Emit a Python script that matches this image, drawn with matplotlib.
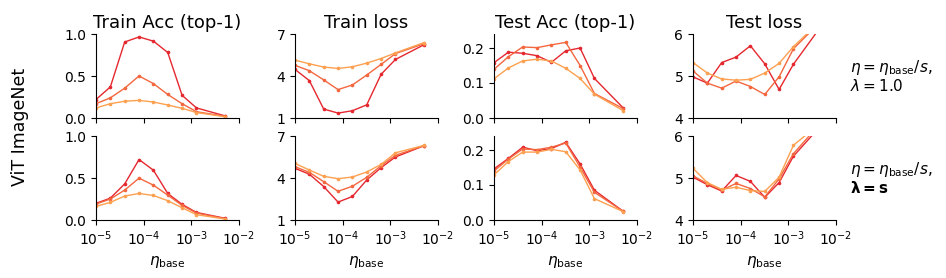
import matplotlib
matplotlib.use('Agg')
import matplotlib.pyplot as plt
import numpy as np

# learning rates: 1e-5 * 2^k, k = 0..7 and 9
eta_base = [1e-5, 2e-5, 4e-5, 8e-5, 1.6e-4, 3.2e-4, 6.4e-4, 1.28e-3, 5.12e-3]

colors = ['#e5282f', '#f3673f', '#fda050']

# row 1: eta = eta_base / s, lambda = 1.0
train_acc_1 = [
    [0.22, 0.37, 0.905, 0.965, 0.915, 0.78, 0.27, 0.12, 0.025],
    [0.17, 0.24, 0.355, 0.50, 0.41, 0.28, 0.17, 0.075, 0.02],
    [0.12, 0.17, 0.20, 0.21, 0.19, 0.155, 0.115, 0.065, 0.015],
]
train_loss_1 = [
    [4.47, 3.67, 1.64, 1.35, 1.52, 1.94, 4.12, 5.18, 6.24],
    [4.76, 4.38, 3.72, 3.03, 3.36, 4.07, 4.83, 5.60, 6.31],
    [5.13, 4.87, 4.64, 4.54, 4.66, 4.92, 5.25, 5.65, 6.39],
]
test_acc_1 = [
    [0.158, 0.188, 0.185, 0.178, 0.159, 0.192, 0.200, 0.113, 0.029],
    [0.139, 0.175, 0.203, 0.201, 0.209, 0.216, 0.150, 0.070, 0.027],
    [0.112, 0.143, 0.163, 0.168, 0.163, 0.142, 0.113, 0.068, 0.021],
]
test_loss_1 = [
    [4.98, 4.83, 5.32, 5.45, 5.72, 5.29, 4.68, 5.28, 6.22],
    [5.12, 4.83, 4.71, 4.88, 4.75, 4.56, 4.98, 5.65, 6.33],
    [5.32, 5.07, 4.93, 4.90, 4.92, 5.07, 5.30, 5.70, 6.35],
]

# row 2: eta = eta_base / s, lambda = s
train_acc_2 = [
    [0.198, 0.26, 0.43, 0.72, 0.593, 0.316, 0.186, 0.09, 0.02],
    [0.19, 0.25, 0.356, 0.498, 0.415, 0.296, 0.174, 0.083, 0.016],
    [0.162, 0.21, 0.285, 0.316, 0.292, 0.23, 0.146, 0.063, 0.012],
]
train_loss_2 = [
    [4.69, 4.27, 3.39, 2.28, 2.68, 3.86, 4.74, 5.50, 6.31],
    [4.81, 4.40, 3.74, 3.05, 3.41, 4.05, 4.88, 5.62, 6.31],
    [5.04, 4.57, 4.12, 3.95, 4.07, 4.43, 4.97, 5.80, 6.33],
]
test_acc_2 = [
    [0.146, 0.176, 0.208, 0.198, 0.204, 0.222, 0.160, 0.085, 0.025],
    [0.140, 0.174, 0.203, 0.201, 0.208, 0.220, 0.151, 0.079, 0.025],
    [0.129, 0.167, 0.194, 0.194, 0.202, 0.195, 0.143, 0.061, 0.024],
]
test_loss_2 = [
    [5.02, 4.84, 4.69, 5.06, 4.92, 4.54, 4.89, 5.52, 6.28],
    [5.05, 4.87, 4.71, 4.87, 4.75, 4.55, 4.98, 5.58, 6.35],
    [5.23, 4.89, 4.73, 4.78, 4.70, 4.68, 5.02, 5.78, 6.34],
]

titles = ['Train Acc (top-1)', 'Train loss', 'Test Acc (top-1)', 'Test loss']
ylims = [(0, 1.0), (1, 7), (0, 0.24), (4, 6)]
yticks = [[0, 0.5, 1.0], [1, 4, 7], [0, 0.1, 0.2], [4, 5, 6]]
yticklabels = [['0.0', '0.5', '1.0'], ['1', '4', '7'], ['0.0', '0.1', '0.2'], ['4', '5', '6']]
rows = [[train_acc_1, train_loss_1, test_acc_1, test_loss_1],
        [train_acc_2, train_loss_2, test_acc_2, test_loss_2]]
row_labels = ['$\\eta = \\eta_{\\rm base}/s$,\n$\\lambda = 1.0$',
              '$\\eta = \\eta_{\\rm base}/s$,\n$\\mathbf{\\lambda = s}$']

fig = plt.figure(figsize=(9.46, 2.78), dpi=100)

W, H = 946.0, 278.0
lefts = [96, 295, 494, 693]
tops = [34, 136]
aw, ah = 143, 84

for r in range(2):
    for c in range(4):
        ax = fig.add_axes([lefts[c] / W, 1 - (tops[r] + ah) / H, aw / W, ah / H])
        for series, col in zip(rows[r][c], colors):
            ax.plot(eta_base, series, color=col, lw=1.0, marker='o', ms=1.6)
        ax.set_xscale('log')
        ax.set_xlim(1e-5, 1e-2)
        ax.set_xticks([1e-5, 1e-4, 1e-3, 1e-2])
        ax.minorticks_off()
        ax.set_ylim(*ylims[c])
        ax.set_yticks(yticks[c])
        ax.set_yticklabels(yticklabels[c])
        ax.spines['top'].set_visible(False)
        ax.spines['right'].set_visible(False)
        ax.tick_params(labelsize=10, length=3.5)
        if r == 0:
            ax.set_title(titles[c], fontsize=13, pad=4)
            ax.set_xticklabels([])
        else:
            ax.set_xlabel('$\\eta_{\\rm base}$', fontsize=11)
        if c == 3:
            ax.text(1.1, 0.5, row_labels[r], transform=ax.transAxes,
                    fontsize=11, va='center', ha='left', linespacing=1.1)

fig.text(20 / W, 1 - 127 / H, 'ViT ImageNet', rotation=90, fontsize=12.5,
         va='center', ha='center')

fig.savefig('out.png', dpi=100)
